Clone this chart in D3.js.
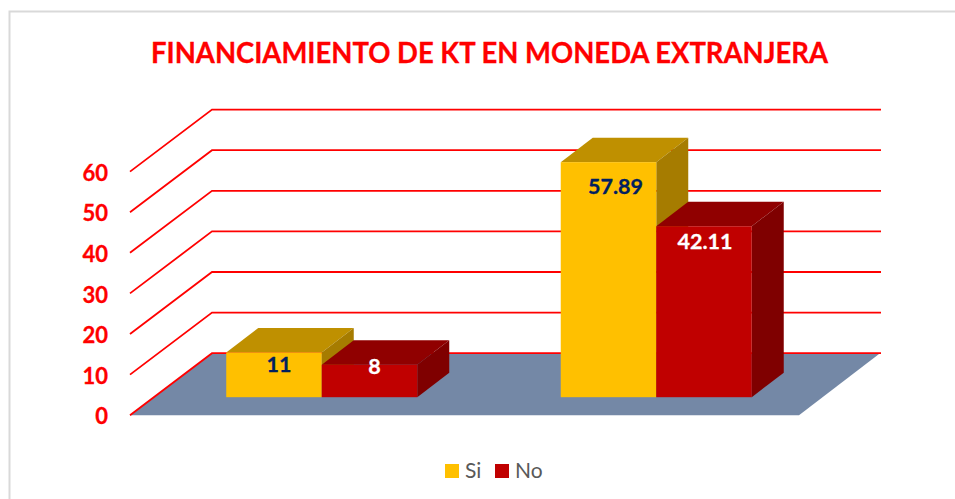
<!DOCTYPE html>
<html><head><meta charset="utf-8">
<script src="https://cdn.jsdelivr.net/npm/d3@7"></script>
<style>html,body{margin:0;background:#fff}svg{display:block}text{font-family:Lato,"Open Sans",sans-serif}</style>
</head><body><svg id="c" width="955" height="499"></svg>
<script>
const chartTitle = "FINANCIAMIENTO DE KT EN MONEDA EXTRANJERA";
const categories = ["Categoria 1", "Categoria 2"];
const seriesNames = ["Si", "No"];
const siValues = [11, 57.89];
const noValues = [8, 42.11];
const valueTicks = [0, 10, 20, 30, 40, 50, 60];
const tickLabels = ["0", "10", "20", "30", "40", "50", "60"];

const svg = d3.select("#c");
const depth = {x: 82, y: -62};
const barDepth = {x: 32, y: -24.5};
const barInset = {x: 24.5, y: -18};
const y = d3.scaleLinear().domain([0, 60]).range([415.2, 171.6]);
const x0 = d3.scaleBand().domain(categories).range([130, 799]).paddingInner(0.429).paddingOuter(0.2145);
const x1 = d3.scaleBand().domain(seriesNames).range([0, x0.bandwidth()]);
const colors = d3.scaleOrdinal().domain(seriesNames).range(["#FFC000", "#C00000"]);
const topColors = d3.scaleOrdinal().domain(seriesNames).range(["#BF9000", "#900000"]);
const sideColors = d3.scaleOrdinal().domain(seriesNames).range(["#A67C00", "#7F0000"]);
const labelColors = d3.scaleOrdinal().domain(seriesNames).range(["#002060", "#FFFFFF"]);

// chart frame
svg.append("path").attr("d", "M955,11.5H9.5V499").attr("fill", "none").attr("stroke", "#D9D9D9").attr("stroke-width", 2);

// title
svg.append("text").attr("x", 489.5).attr("y", 63).attr("text-anchor", "middle")
  .attr("font-size", 28).attr("font-weight", 700).attr("fill", "#FF0000")
  .attr("stroke", "#FF0000").attr("stroke-width", 0.3)
  .attr("textLength", 677).attr("lengthAdjust", "spacingAndGlyphs").text(chartTitle);

// floor
const [fl, fr] = x0.range();
svg.append("path").attr("fill", "#7488A6")
  .attr("d", d3.line()([[fl, y(0)], [fl + depth.x, y(0) + depth.y], [fr + depth.x - 1, y(0) + depth.y], [fr, y(0)]]) + "Z");

// gridlines (side wall + back wall)
svg.append("g").selectAll("path").data(valueTicks).join("path")
  .attr("fill", "none").attr("stroke", "#FF0000").attr("stroke-width", 1.8)
  .attr("d", d => d3.line()([[fl, y(d)], [fl + depth.x, y(d) + depth.y], [fr + depth.x, y(d) + depth.y]]));

// axis labels
svg.append("g").selectAll("text").data(valueTicks).join("text")
  .attr("x", 108).attr("y", d => y(d) + 1.5).attr("dy", "0.35em").attr("text-anchor", "end")
  .attr("font-size", 22).attr("font-weight", 700).attr("fill", "#FF0000")
  .attr("stroke", "#FF0000").attr("stroke-width", 0.3)
  .text((d, i) => tickLabels[i]);

// bars, drawn left to right so each overlaps its left neighbour
const rows = categories.flatMap((c, i) => [
  {c, s: "Si", v: siValues[i], i},
  {c, s: "No", v: noValues[i], i}
]);
const bars = svg.append("g").selectAll("g").data(rows).join("g");
const bx = d => x0(d.c) + x1(d.s) + barInset.x;
const by = v => y(v) + barInset.y;
const w = x1.bandwidth();
bars.append("path").attr("fill", d => topColors(d.s))
  .attr("d", d => d3.line()([[bx(d), by(d.v)], [bx(d) + barDepth.x, by(d.v) + barDepth.y], [bx(d) + w + barDepth.x, by(d.v) + barDepth.y], [bx(d) + w, by(d.v)]]) + "Z");
bars.append("path").attr("fill", d => sideColors(d.s))
  .attr("d", d => d3.line()([[bx(d) + w, by(d.v)], [bx(d) + w + barDepth.x, by(d.v) + barDepth.y], [bx(d) + w + barDepth.x, by(0) + barDepth.y], [bx(d) + w, by(0)]]) + "Z");
bars.append("rect").attr("fill", d => colors(d.s))
  .attr("x", bx).attr("width", w).attr("y", d => by(d.v)).attr("height", d => by(0) - by(d.v));

// data labels
const nudge = {"Si0": [5, 12], "No0": [5, 2], "Si1": [7, 24], "No1": [1, 15]};
svg.append("g").selectAll("text").data(rows).join("text")
  .attr("x", d => bx(d) + w / 2 + nudge[d.s + d.i][0])
  .attr("y", d => by(d.v) + nudge[d.s + d.i][1])
  .attr("dy", "0.35em").attr("text-anchor", "middle")
  .attr("font-size", 21.5).attr("font-weight", 700)
  .attr("fill", d => labelColors(d.s))
  .attr("stroke", d => labelColors(d.s)).attr("stroke-width", 0.3)
  .text(d => d.v);

// legend
const legendX = d3.scalePoint().domain(seriesNames).range([445, 495]);
const lg = svg.append("g").selectAll("g").data(seriesNames).join("g")
  .attr("transform", d => `translate(${legendX(d)},464)`);
lg.append("rect").attr("width", 14).attr("height", 14).attr("fill", d => colors(d));
lg.append("text").attr("x", 20).attr("y", 7).attr("dy", "0.35em")
  .attr("font-size", 21).attr("fill", "#595959").text(d => d);
</script></body></html>
